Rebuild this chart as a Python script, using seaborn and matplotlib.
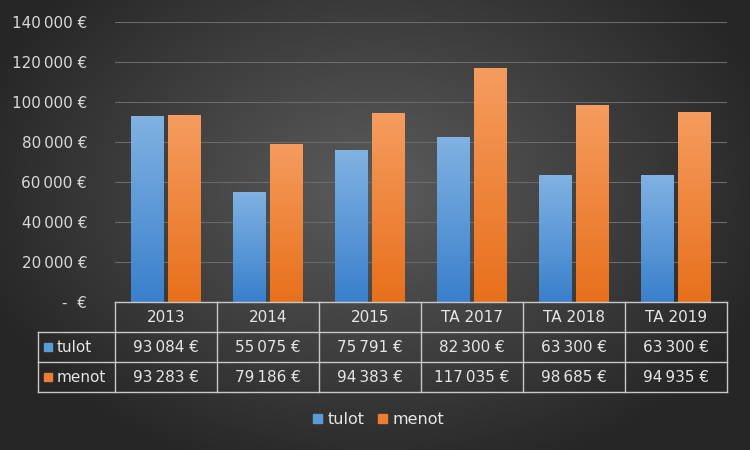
import numpy as np
import pandas as pd
import matplotlib
matplotlib.use("Agg")
import matplotlib.pyplot as plt
import seaborn as sb
from matplotlib.colors import LinearSegmentedColormap

years = ['2013', '2014', '2015', 'TA 2017', 'TA 2018', 'TA 2019']
tulot = [93084, 55075, 75791, 82300, 63300, 63300]
menot = [93283, 79186, 94383, 117035, 98685, 94935]
yticks = [0, 20000, 40000, 60000, 80000, 100000, 120000, 140000]


def eur(v):
    return f"{v:,}".replace(',', '\u2009') + ' €' if v else '-  €'


df = pd.DataFrame({'year': years * 2, 'value': tulot + menot,
                   'series': ['tulot'] * 6 + ['menot'] * 6})

fig = plt.figure(figsize=(7.5, 4.5), dpi=100)
W, H = 750, 450

# radial background gradient
bg = fig.add_axes([0, 0, 1, 1], zorder=-10)
yy, xx = np.mgrid[0:H, 0:W]
r = np.sqrt(((xx - 375) / 420) ** 2 + ((yy - 190) / 300) ** 2)
bg.imshow(np.clip(r, 0, 1), cmap=LinearSegmentedColormap.from_list('g', ['#5c5c5c', '#262626']),
          extent=[0, W, H, 0], aspect='auto')
bg.set_axis_off()

ax = fig.add_axes([115 / W, 148 / H, 612 / W, 280 / H])
ax.set_facecolor('none')
sb.barplot(data=df, x='year', y='value', hue='series', order=years,
           palette={'tulot': '#5b9bd5', 'menot': '#ed7d31'}, width=0.72, gap=0.12,
           ax=ax, legend=False, zorder=3)

grads = {'tulot': ['#3a80cc', '#80b2e2'], 'menot': ['#e8701c', '#f59c5e']}
for patch, name in zip(ax.patches, ['tulot'] * 6 + ['menot'] * 6):
    x0, y0 = patch.get_x(), patch.get_y()
    w, h = patch.get_width(), patch.get_height()
    cm = LinearSegmentedColormap.from_list(name, grads[name])
    im = ax.imshow(np.linspace(0, 1, 100).reshape(-1, 1), cmap=cm, origin='lower',
                   extent=[x0, x0 + w, y0, y0 + h], aspect='auto', zorder=3)
    im.set_clip_path(patch)
    patch.set_facecolor('none')
    patch.set_edgecolor('none')

ax.set_xlim(-0.5, 5.5)
ax.set_ylim(0, 140000)
ax.set_yticks(yticks)
ax.set_yticklabels([eur(v) for v in yticks], color='#d9d9d9', fontsize=11)
ax.set_xticks([])
ax.set_xlabel('')
ax.set_ylabel('')
ax.tick_params(axis='y', length=0, pad=20)
ax.grid(axis='y', color='#6a6a6a', linewidth=0.8, zorder=0)
for s in ax.spines.values():
    s.set_visible(False)

# data table below the plot, in pixel coordinates
ov = fig.add_axes([0, 0, 1, 1], zorder=5)
ov.set_xlim(0, W)
ov.set_ylim(H, 0)
ov.set_axis_off()
lc = '#c8c8c8'
cw = 612 / 6
ov.plot([115, 727], [302, 302], color=lc, lw=1)
for yl in [332, 362, 392]:
    ov.plot([38, 727], [yl, yl], color=lc, lw=1)
ov.plot([38, 38], [332, 392], color=lc, lw=1)
for i in range(7):
    ov.plot([115 + i * cw] * 2, [302, 392], color=lc, lw=1)
tc = '#e6e6e6'
for i, y in enumerate(years):
    xc = 115 + (i + 0.5) * cw
    ov.text(xc, 317, y, ha='center', va='center', color=tc, fontsize=11)
    ov.text(xc, 347, eur(tulot[i]), ha='center', va='center', color=tc, fontsize=11)
    ov.text(xc, 377, eur(menot[i]), ha='center', va='center', color=tc, fontsize=11)
for yc, name, col in [(347, 'tulot', '#5b9bd5'), (377, 'menot', '#ed7d31')]:
    ov.add_patch(plt.Rectangle((44, yc - 4), 8, 8, color=col))
    ov.text(57, yc, name, ha='left', va='center', color=tc, fontsize=11)

# legend
for xk, name, col in [(313, 'tulot', '#5b9bd5'), (378, 'menot', '#ed7d31')]:
    ov.add_patch(plt.Rectangle((xk, 414), 9, 9, color=col))
    ov.text(xk + 15, 419, name, ha='left', va='center', color=tc, fontsize=11.5)

fig.savefig('out.png', dpi=100)
